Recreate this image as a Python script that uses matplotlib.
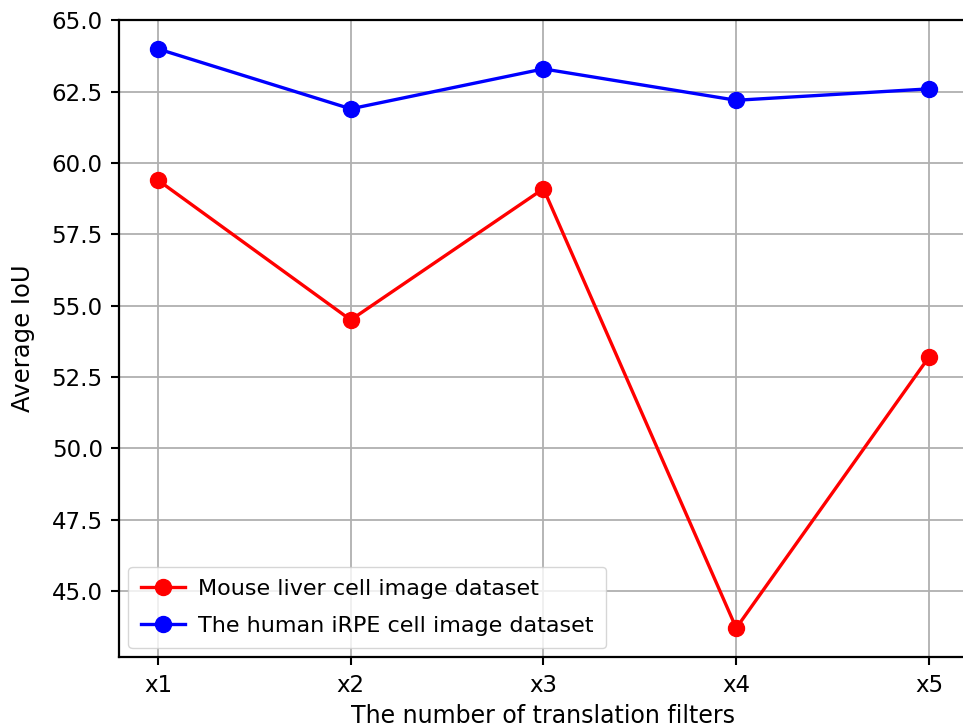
import matplotlib
matplotlib.use("Agg")
import matplotlib.pyplot as plt

# Average IoU per number of translation filters
filters = ["x1", "x2", "x3", "x4", "x5"]
mouse_liver = [59.4, 54.5, 59.1, 43.7, 53.2]
human_irpe = [64.0, 61.9, 63.3, 62.2, 62.6]

plt.rcParams["font.family"] = "DejaVu Sans"
plt.rcParams["font.size"] = 16

fig = plt.figure(figsize=(9.63, 7.26), dpi=100)
ax = fig.add_axes([0.124, 0.095, 0.8807, 0.8775])

x = range(len(filters))
ax.plot(x, mouse_liver, color="red", marker="o", lw=2.4, ms=11.5,
        label="Mouse liver cell image dataset")
ax.plot(x, human_irpe, color="blue", marker="o", lw=2.4, ms=11.5,
        label="The human iRPE cell image dataset")

ax.set_xticks(list(x))
ax.set_xticklabels(filters)
ax.grid(True, color="#b0b0b0", lw=1.3)
ax.set_axisbelow(True)
for sp in ax.spines.values():
    sp.set_linewidth(1.6)
ax.tick_params(width=1.5, length=6, labelsize=16.5, pad=6)

ax.set_xlabel("The number of translation filters", fontsize=17, labelpad=5)
ax.set_ylabel("Average IoU", fontsize=17.5, labelpad=12)
ax.legend(loc="lower left", fontsize=16, handlelength=2.0, borderaxespad=0.4,
          labelspacing=0.75, handletextpad=0.6, borderpad=0.55)

fig.savefig("out.png", dpi=100)
